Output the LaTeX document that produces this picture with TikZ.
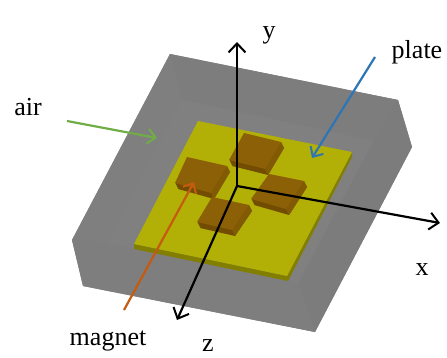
\documentclass[tikz,border=0pt]{standalone}
\usepackage{fontspec}
\setmainfont{Liberation Serif}
\usetikzlibrary{arrows.meta, positioning, calc}
\definecolor{AirFloor}{RGB}{128, 128, 128}
\definecolor{AirBack}{RGB}{125, 125, 125}
\definecolor{AirLeft}{RGB}{127, 127, 127}
\definecolor{AirRight}{RGB}{124, 124, 124}
\definecolor{AirFront}{RGB}{126, 126, 126}
\definecolor{PlateTop}{RGB}{178, 176, 6}
\definecolor{PlateEdge}{RGB}{130, 126, 0}
\definecolor{MagnetTop}{RGB}{140, 96, 6}
\definecolor{MagnetEdge}{RGB}{114, 76, 0}
\definecolor{MagnetSide}{RGB}{130, 90, 4}
\definecolor{GreenArrow}{RGB}{112, 173, 71}
\definecolor{BlueArrow}{RGB}{46, 117, 182}
\definecolor{OrangeArrow}{RGB}{197, 90, 17}
\tikzset{
    axisline/.style={->, line width=2.2pt, black, >={Straight Barb[length=9pt, width=17pt, line width=2pt]}},
    callout/.style={->, line width=2.2pt, >={Straight Barb[length=8pt, width=15pt, line width=2pt]}},
    lbl/.style={font=\fontsize{26}{26}\selectfont, text=black}
}
\newcommand{\magnet}[8]{
    \foreach \s in {1,...,6} {
        \fill[MagnetEdge, shift={(0.5*\s,\s)}] (#1,#2) -- (#3,#4) -- (#5,#6) -- (#7,#8) -- cycle;
    }
    \fill[MagnetSide] (#3,#4) -- (#5,#6) -- ($(#5,#6)+(3,6)$) -- ($(#3,#4)+(3,6)$) -- cycle;
    \fill[MagnetTop] (#1,#2) -- (#3,#4) -- (#5,#6) -- (#7,#8) -- cycle;
}
\begin{document}
\begin{tikzpicture}[x=1pt, y=-1pt]
    \useasboundingbox (0,0) rectangle (447,358);
    % air box
    \fill[AirFloor] (170,54) -- (398,100) -- (412,147) -- (315,332) -- (83,286) -- (72,240) -- cycle;
    \fill[AirBack] (170,54) -- (398,100) -- (373,141) -- (182,100) -- cycle;
    \fill[AirLeft] (170,54) -- (182,100) -- (107,243) -- (72,240) -- cycle;
    \fill[AirRight] (398,100) -- (412,147) -- (315,332) -- (298,283) -- (373,141) -- cycle;
    \fill[AirFront] (72,240) -- (107,243) -- (298,283) -- (315,332) -- (83,286) -- cycle;
    \draw[AirFloor, line width=0.8pt, line join=round] (182,100) -- (373,141) -- (298,283) -- (107,243) -- cycle;
    % plate
    \fill[PlateEdge] (134,244) -- (287,276) -- (352,152) -- (352,157) -- (288,281) -- (134,249) -- cycle;
    \fill[PlateTop] (198,121) -- (352,152) -- (287,276) -- (134,244) -- cycle;
    % magnets
    \magnet{244}{133}{281}{142}{265}{169}{229}{160}
    \magnet{187}{157}{227}{166}{211}{193}{175}{183}
    \magnet{269}{174}{304}{181}{286}{209}{251}{199}
    \magnet{212}{197}{249}{205}{232}{230}{197}{222}
    % axes
    \coordinate (origin) at (237,186);
    \coordinate (ytip) at (237,42);
    \coordinate (xtip) at (440,223);
    \coordinate (ztip) at (177,320);
    \draw[axisline] (origin) -- (ytip);
    \draw[axisline] (origin) -- (xtip);
    \draw[axisline] (origin) -- (ztip);
    % labels
    \node[lbl] (ylabel) at (269,35) {y};
    \node[lbl] (xlabel) at (422,270) {x};
    \node[lbl] (zlabel) at (208,346) {z};
    \node[lbl] (airlabel) at (28,107) {air};
    \node[lbl] (platelabel) at (417,52) {plate};
    \node[lbl] (magnetlabel) at (108,341) {magnet};
    % callouts
    \coordinate (airstart) at (67,121);
    \coordinate (airend) at (157,138);
    \coordinate (platestart) at (375,57);
    \coordinate (plateend) at (312,158);
    \coordinate (magnetstart) at (124,310);
    \coordinate (magnetend) at (194,182);
    \draw[callout, GreenArrow] (airstart) -- (airend);
    \draw[callout, BlueArrow] (platestart) -- (plateend);
    \draw[callout, OrangeArrow] (magnetstart) -- (magnetend);
\end{tikzpicture}
\end{document}
